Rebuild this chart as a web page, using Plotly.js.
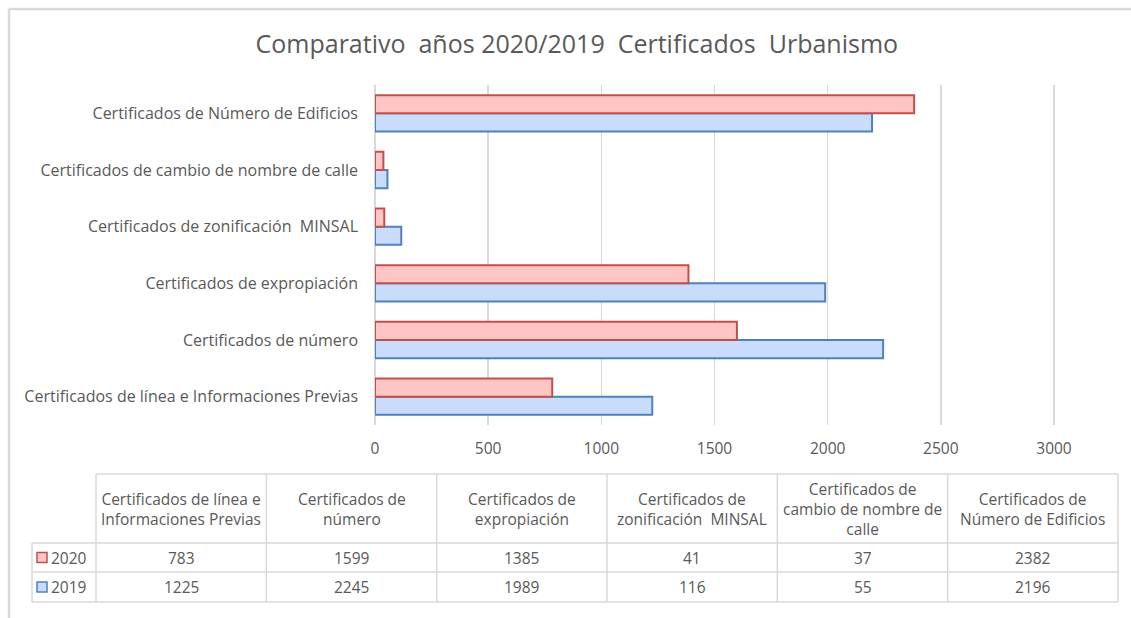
<!DOCTYPE html>
<html>
<head>
<meta charset="utf-8">
<script src="https://cdn.plot.ly/plotly-3.0.1.min.js"></script>
<style>
html,body{margin:0;padding:0;background:#fff;}
#chart{width:1131px;height:618px;}
</style>
</head>
<body>
<div id="chart"></div>
<script>
// ---- data ----
const categories = [
  "Certificados de línea e Informaciones Previas",
  "Certificados de número",
  "Certificados de expropiación",
  "Certificados de zonificación\u00a0 MINSAL",
  "Certificados de cambio de nombre de calle",
  "Certificados de Número de Edificios"
];
const tableHeaders = [
  "Certificados de línea e<br>Informaciones Previas",
  "Certificados de<br>número",
  "Certificados de<br>expropiación",
  "Certificados de<br>zonificación\u00a0 MINSAL",
  "Certificados de<br>cambio de nombre de<br>calle",
  "Certificados de<br>Número de Edificios"
];
const values2020 = [783, 1599, 1385, 41, 37, 2382];
const values2019 = [1225, 2245, 1989, 116, 55, 2196];
const seriesNames = ["2020", "2019"];
const xTicks = [0, 500, 1000, 1500, 2000, 2500, 3000];
const titleText = "Comparativo\u00a0 años 2020/2019\u00a0 Certificados\u00a0 Urbanismo";

// ---- layout helpers ----
const W = 1131, H = 618;
const M = {l: 375, r: 70, t: 85, b: 193};
const PW = W - M.l - M.r, PH = H - M.t - M.b;
const px = x => (x - M.l) / PW;
const py = y => (H - M.b - y) / PH;
// x range chosen so that 3000 sits at ~1054 px and its gridline stays visible
const XMAX = 3000 * PW / (1054 - M.l);

const FONT = "Open Sans, Liberation Sans, Arial, sans-serif";
const GREY = "#595959";
const LINE = "#d9d9d9";
const RED_FILL = "#ffc4c4", RED_LINE = "#c0504d";
const BLUE_FILL = "#c9dcfc", BLUE_LINE = "#4f81bd";
const FS = 15.5;

const traces = [
  {
    type: "bar", orientation: "h", name: seriesNames[1],
    y: categories, x: values2019,
    marker: {color: BLUE_FILL, line: {color: BLUE_LINE, width: 2}},
    hoverinfo: "x+name"
  },
  {
    type: "bar", orientation: "h", name: seriesNames[0],
    y: categories, x: values2020,
    marker: {color: RED_FILL, line: {color: RED_LINE, width: 2}},
    hoverinfo: "x+name"
  }
];

const shapes = [];
const annotations = [];
function hline(x0, x1, y, color, w) {
  shapes.push({type: "line", xref: "paper", yref: "paper", x0: px(x0), x1: px(x1), y0: py(y), y1: py(y), line: {color: color || LINE, width: w || 1.5}});
}
function vline(x, y0, y1, color, w) {
  shapes.push({type: "line", xref: "paper", yref: "paper", x0: px(x), x1: px(x), y0: py(y0), y1: py(y1), line: {color: color || LINE, width: w || 1.5}});
}

// outer chart border (top and left)
hline(9, 1131, 9, "#d9d9d9", 2.5);
vline(9, 9, 618, "#d9d9d9", 2.5);

// data table grid
const tLeft = 32, tKey = 96, tRight = 1118;
const yHeadTop = 474, yRow1 = 543, yRow2 = 572, yBottom = 602;
const colW = (tRight - tKey) / categories.length;
hline(tKey, tRight, yHeadTop);
hline(tLeft, tRight, yRow1);
hline(tLeft, tRight, yRow2);
hline(tLeft, tRight, yBottom);
vline(tLeft, yRow1, yBottom);
for (let i = 0; i <= categories.length; i++) {
  vline(tKey + colW * i, yHeadTop, yBottom);
}

const rows = [values2020, values2019];
const rowY = [(yRow1 + yRow2) / 2, (yRow2 + yBottom) / 2];
for (let i = 0; i < categories.length; i++) {
  const cx = tKey + colW * (i + 0.5);
  annotations.push({xref: "paper", yref: "paper", x: px(cx), y: py((yHeadTop + yRow1) / 2),
    text: tableHeaders[i], showarrow: false, align: "center", xanchor: "center", yanchor: "middle",
    font: {family: FONT, size: FS, color: GREY}});
  rows.forEach((r, k) => {
    annotations.push({xref: "paper", yref: "paper", x: px(cx), y: py(rowY[k]),
      text: String(r[i]), showarrow: false, xanchor: "center", yanchor: "middle",
      font: {family: FONT, size: FS, color: GREY}});
  });
}
// legend keys in table
const keyFill = [RED_FILL, BLUE_FILL], keyLine = [RED_LINE, BLUE_LINE];
rowY.forEach((yy, k) => {
  shapes.push({type: "rect", xref: "paper", yref: "paper",
    x0: px(37), x1: px(47), y0: py(yy - 5), y1: py(yy + 5),
    fillcolor: keyFill[k], line: {color: keyLine[k], width: 1.5}});
  annotations.push({xref: "paper", yref: "paper", x: px(49), y: py(yy),
    text: seriesNames[k], showarrow: false, xanchor: "left", yanchor: "middle",
    font: {family: FONT, size: FS, color: GREY}});
});

const layout = {
  width: W, height: H,
  margin: M,
  paper_bgcolor: "#ffffff", plot_bgcolor: "#ffffff",
  showlegend: false,
  barmode: "group",
  bargap: 0.36, bargroupgap: 0,
  title: {text: titleText, x: 0.51, xanchor: "center", y: 1 - 44 / H, yanchor: "middle",
    font: {family: FONT, size: 25, color: GREY}},
  xaxis: {
    range: [0, XMAX], tickvals: xTicks, ticktext: xTicks.map(String),
    showgrid: true, gridcolor: LINE, gridwidth: 1.5,
    zeroline: true, zerolinecolor: LINE, zerolinewidth: 1.5,
    showline: false, ticks: "", fixedrange: true,
    ticklabelstandoff: 12,
    tickfont: {family: FONT, size: FS, color: GREY}
  },
  yaxis: {
    type: "category", categoryorder: "array", categoryarray: categories,
    showgrid: false, zeroline: false, showline: false, ticks: "",
    ticklabelstandoff: 16,
    tickfont: {family: FONT, size: 16, color: GREY}
  },
  shapes: shapes,
  annotations: annotations
};

Plotly.newPlot("chart", traces, layout, {displayModeBar: false, staticPlot: true});
</script>
</body>
</html>
